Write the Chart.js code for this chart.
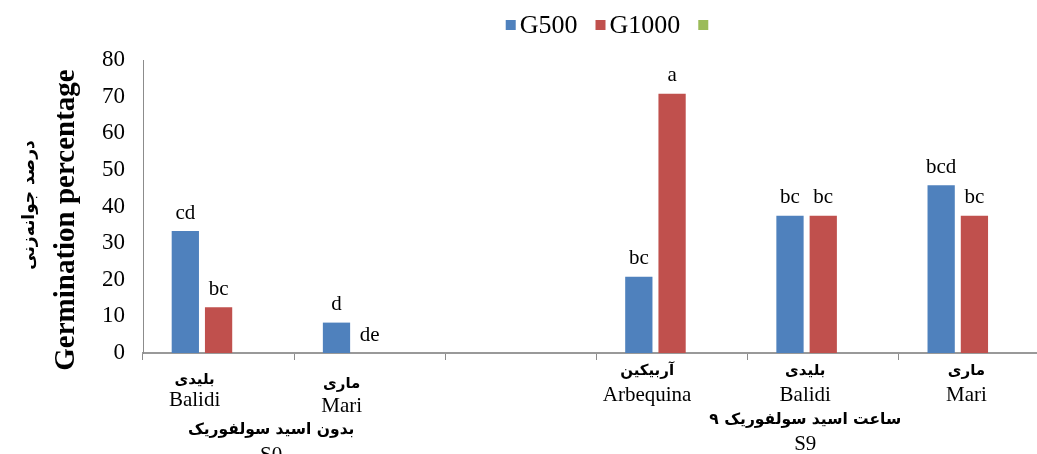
<!DOCTYPE html>
<html>
<head>
<meta charset="utf-8">
<script src="https://cdn.jsdelivr.net/npm/chart.js@4.4.0/dist/chart.umd.min.js"></script>
<style>
  html, body { margin: 0; padding: 0; background: #fff; overflow: hidden; width: 1037px; height: 454px; }
  #wrap { width: 1050px; height: 454px; }
</style>
</head>
<body>
<div id="wrap"><canvas id="c" width="1050" height="454"></canvas></div>
<script>
// Cultivars along the x axis (Persian name above, Latin name below)
const cultivarsEn = ['Balidi', 'Mari', '', 'Arbequina', 'Balidi', 'Mari'];
const cultivarsFa = ['بلیدی', 'ماری', '', 'آربیکین', 'بلیدی', 'ماری'];

// Series
const seriesNames = ['G500', 'G1000', ''];
const g500  = [33.3, 8.3, null, 20.8, 37.5, 45.8];
const g1000 = [12.5, 0, null, 70.8, 37.5, 37.5];
const g3    = [null, null, null, null, null, null];

// Mean-separation letters shown above the bars
const letters500  = ['cd', 'd', '', 'bc', 'bc', 'bcd'];
const letters1000 = ['bc', 'de', '', 'a', 'bc', 'bc'];

// Sulfuric acid treatments grouping the cultivars
const treatmentFa   = ['بدون اسید سولفوریک', '۹ ساعت اسید سولفوریک'];
const treatmentCode = ['S0', 'S9'];

// Y axis
const yMin = 0, yMax = 80, yStep = 10;
const yTitleEn = 'Germination percentage';
const yTitleFa = 'درصد جوانه‌زنی';

const colors = ['#4F81BD', '#C0504D', '#9BBB59'];
const SERIF = '"Liberation Serif", "Times New Roman", serif';
const ARABIC = '"DejaVu Sans", sans-serif';

// Letters drawn above each bar of the two measured series
const barLetters = {
  id: 'barLetters',
  afterDatasetsDraw(chart) {
    const ctx = chart.ctx;
    const sets = [letters500, letters1000];
    ctx.save();
    ctx.font = '21px ' + SERIF;
    ctx.fillStyle = '#000';
    ctx.textAlign = 'center';
    ctx.textBaseline = 'middle';
    sets.forEach((letters, di) => {
      const meta = chart.getDatasetMeta(di);
      letters.forEach((t, i) => {
        if (!t) return;
        const el = meta.data[i];
        ctx.fillText(t, el.x, el.y - 18);
      });
    });
    ctx.restore();
  }
};

// Persian caption; a numeral in the phrase is set on its left end
const DIGITS = '0-9\u0660-\u0669\u06F0-\u06F9';
function drawCaption(ctx, text, cx, cy) {
  const clean = text.replace(/[\u200E\u200F\u202A-\u202E\u2066-\u2069]/g, '').trim();
  const lead = clean.match(new RegExp('^([' + DIGITS + ']+)\\s+(.*)$'));
  const trail = clean.match(new RegExp('^(.*)\\s+([' + DIGITS + ']+)$'));
  let num = null, rest = null;
  if (lead) { num = lead[1]; rest = lead[2]; }
  else if (trail) { num = trail[2]; rest = trail[1]; }
  if (num === null) {
    ctx.textAlign = 'center';
    ctx.fillText(clean, cx, cy);
    return;
  }
  const wNum = ctx.measureText(num).width;
  const wSp = ctx.measureText(' ').width;
  const wRest = ctx.measureText(rest).width;
  const left = cx - (wNum + wSp + wRest) / 2;
  ctx.textAlign = 'left';
  ctx.fillText(num, left, cy);
  ctx.fillText(rest, left + wNum + wSp, cy);
  ctx.textAlign = 'center';
}

// Two-script category labels, treatment labels and axis titles
const axisText = {
  id: 'axisText',
  afterDraw(chart) {
    const ctx = chart.ctx;
    const x = chart.scales.x;
    const dx  = [-24, -28, 0, -25, -18, -8];
    const faY = [380, 384, 0, 371, 371, 371];
    const enY = [406, 412, 0, 401, 401, 401];
    ctx.save();
    ctx.fillStyle = '#000';
    ctx.textAlign = 'center';
    cultivarsEn.forEach((name, i) => {
      const cx = x.getPixelForValue(i) + dx[i];
      if (cultivarsFa[i]) {
        ctx.font = 'bold 15px ' + ARABIC;
        ctx.textBaseline = 'middle';
        ctx.fillText(cultivarsFa[i], cx, faY[i]);
      }
      if (name) {
        ctx.font = '21px ' + SERIF;
        ctx.textBaseline = 'alphabetic';
        ctx.fillText(name, cx, enY[i]);
      }
    });

    // treatment captions under each group of cultivars
    const groupX = [
      (x.getPixelForValue(0) + x.getPixelForValue(1)) / 2 - 23,
      (x.getPixelForValue(3) + x.getPixelForValue(5)) / 2 - 18
    ];
    const groupFaY = [430, 420];
    const groupCodeY = [461, 450];
    treatmentFa.forEach((t, g) => {
      ctx.font = 'bold 15.5px ' + ARABIC;
      ctx.textBaseline = 'middle';
      drawCaption(ctx, t, groupX[g], groupFaY[g]);
      ctx.font = '21px ' + SERIF;
      ctx.textBaseline = 'alphabetic';
      ctx.fillText(treatmentCode[g], groupX[g], groupCodeY[g]);
    });

    // y axis titles, reading bottom to top
    const midY = 220;
    ctx.translate(67, midY);
    ctx.rotate(-Math.PI / 2);
    ctx.font = 'bold 29px ' + SERIF;
    ctx.textBaseline = 'middle';
    ctx.fillText(yTitleEn, 0, 0);
    ctx.font = 'bold 17px ' + ARABIC;
    ctx.fillText(yTitleFa, 15, -37);
    ctx.restore();
  }
};

// Legend with small square swatches
const squareLegend = {
  id: 'squareLegend',
  afterDraw(chart) {
    const ctx = chart.ctx;
    const box = 10, gapText = 4, gapItem = 18;
    ctx.save();
    ctx.font = '26px ' + SERIF;
    const widths = chart.data.datasets.map(d => d.label ? ctx.measureText(d.label).width : 0);
    let total = 0;
    widths.forEach((w, i) => {
      total += box + (w ? gapText + w : 0);
      if (i < widths.length - 1) total += gapItem;
    });
    let cx = 607 - total / 2;
    const cy = 25;
    ctx.textBaseline = 'middle';
    ctx.textAlign = 'left';
    chart.data.datasets.forEach((d, i) => {
      ctx.fillStyle = d.backgroundColor;
      ctx.fillRect(cx, cy - box / 2, box, box);
      cx += box;
      if (d.label) {
        ctx.fillStyle = '#000';
        ctx.fillText(d.label, cx + gapText, cy + 1);
        cx += gapText + widths[i];
      }
      cx += gapItem;
    });
    ctx.restore();
  }
};

new Chart(document.getElementById('c'), {
  type: 'bar',
  data: {
    labels: cultivarsEn,
    datasets: [
      { label: seriesNames[0], data: g500,  backgroundColor: colors[0] },
      { label: seriesNames[1], data: g1000, backgroundColor: colors[1] },
      { label: seriesNames[2], data: g3,    backgroundColor: colors[2] }
    ]
  },
  options: {
    responsive: false,
    animation: false,
    devicePixelRatio: 1,
    layout: { padding: { top: 60, right: 0, bottom: 0, left: 0 } },
    datasets: { bar: { categoryPercentage: 0.66, barPercentage: 0.82 } },
    plugins: { legend: { display: false }, tooltip: { enabled: false } },
    scales: {
      x: {
        offset: true,
        grid: { display: true, offset: true, drawOnChartArea: false, drawTicks: true, tickLength: 7, color: '#8c8c8c', lineWidth: 1 },
        border: { display: true, color: '#999', width: 2 },
        ticks: { display: false },
        afterFit(scale) { scale.height = 101; }
      },
      y: {
        min: yMin, max: yMax,
        grid: { display: false, drawTicks: false },
        border: { display: true, color: '#8c8c8c', width: 1 },
        ticks: { stepSize: yStep, padding: 18, color: '#000', font: { family: 'Liberation Serif', size: 23 } },
        afterFit(scale) { scale.width = 143; }
      }
    }
  },
  plugins: [barLetters, axisText, squareLegend]
});
</script>
</body>
</html>
